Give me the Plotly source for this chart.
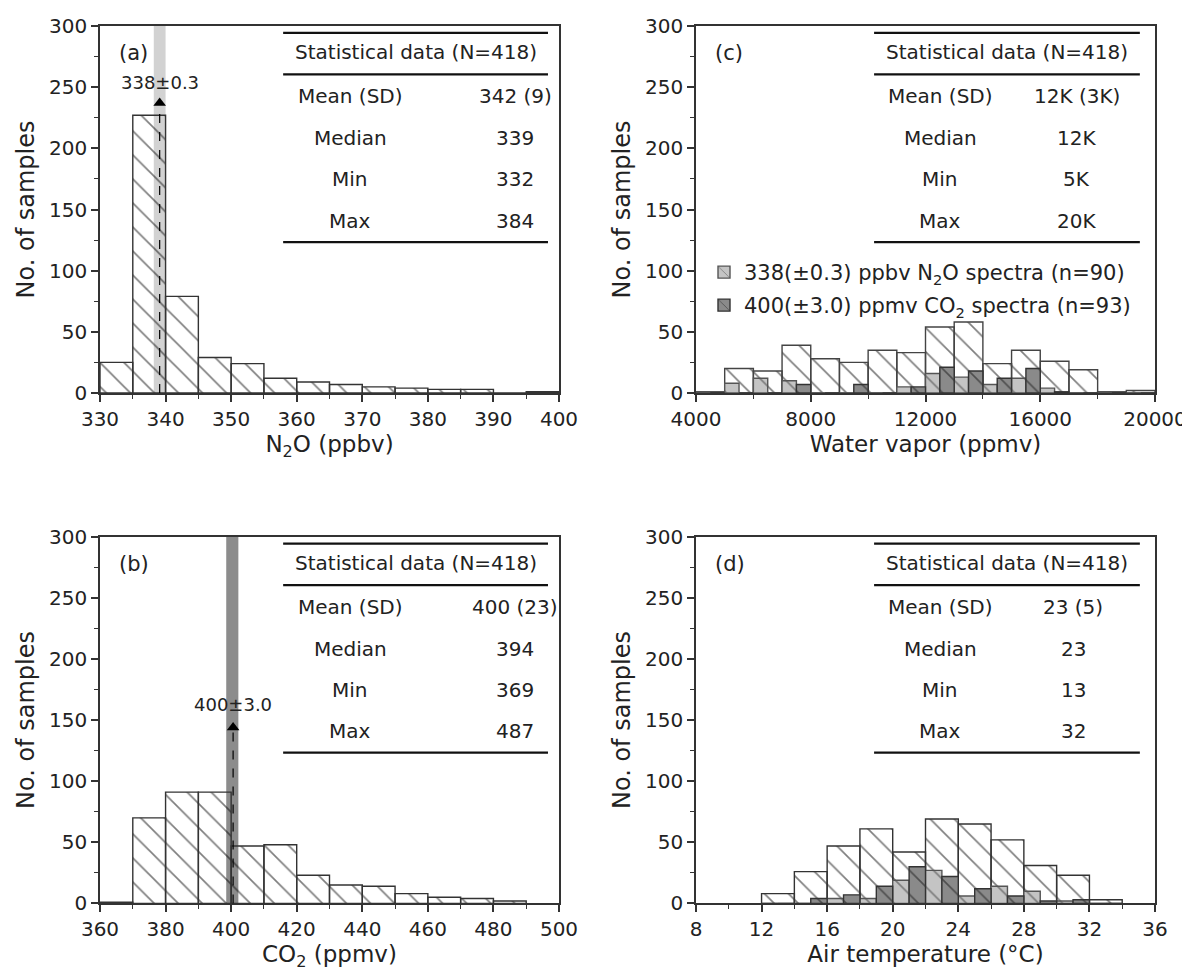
import plotly.graph_objects as go

# ---------------- data ----------------
# (a) N2O histogram (bin width 5 ppbv)
n2o_bin_start = [330, 335, 340, 345, 350, 355, 360, 365, 370, 375, 380, 385, 390, 395]
n2o_counts = [25, 227, 79, 29, 24, 12, 9, 7, 5, 4, 3, 3, 0, 1]
n2o_width = 5

# (b) CO2 histogram (bin width 10 ppmv)
co2_bin_start = [360, 370, 380, 390, 400, 410, 420, 430, 440, 450, 460, 470, 480]
co2_counts = [1, 70, 91, 91, 47, 48, 23, 15, 14, 8, 5, 4, 2]
co2_width = 10

# (c) water vapor histogram (bin width 1000 ppmv)
wv_bin_start = [4000, 5000, 6000, 7000, 8000, 9000, 10000, 11000, 12000, 13000,
                14000, 15000, 16000, 17000, 18000, 19000]
wv_counts = [1, 20, 18, 39, 28, 25, 35, 33, 54, 58, 24, 35, 26, 19, 1, 2]
wv_n2o = [0, 8, 12, 10, 0, 0, 0, 5, 16, 13, 7, 12, 4, 0, 0, 0]
wv_co2 = [0, 0, 0, 7, 0, 7, 0, 5, 21, 18, 12, 20, 1, 0, 0, 0]
wv_width = 1000

# (d) air temperature histogram (bin width 2 C)
t_bin_start = [12, 14, 16, 18, 20, 22, 24, 26, 28, 30, 32]
t_counts = [8, 26, 47, 61, 42, 69, 65, 52, 31, 23, 3]
t_n2o = [0, 0, 4, 4, 19, 27, 6, 14, 10, 2, 0]
t_co2 = [0, 4, 7, 14, 30, 22, 12, 6, 2, 3, 0]
t_width = 2

# statistics tables
stat_labels = ["Mean (SD)", "Median", "Min", "Max"]
stat_header = "Statistical data (N=418)"
a_vals = ["342 (9)", "339", "332", "384"]
b_vals = ["400 (23)", "394", "369", "487"]
c_vals = ["12K (3K)", "12K", "5K", "20K"]
d_vals = ["23 (5)", "23", "13", "32"]

# reference spectra markers
n2o_ref = dict(center=339.1, lo=338.2, hi=340.0, tip=237, label="338±0.3", label_y=254)
co2_ref = dict(center=400.6, lo=398.5, hi=402.2, tip=144, label="400±3.0", label_y=163)

FONT = "DejaVu Sans"
INK = "#222222"
AX = "#333333"
HATCH = "#000000"

fig = go.Figure()

def hatched(xs, ys, w, xa, ya, off=0, bg="rgba(0,0,0,0)", fg=HATCH, line=AX,
            name=None, showlegend=False, legend=None):
    kw = {}
    if legend:
        kw["legend"] = legend
    fig.add_trace(go.Bar(
        x=xs, y=ys, width=w, offset=off, xaxis=xa, yaxis=ya,
        name=name, showlegend=showlegend,
        marker=dict(color=bg, line=dict(color=line, width=1.4),
                    pattern=dict(shape="\\", fgcolor=fg, bgcolor=bg, size=17, solidity=0.1)),
        hoverinfo="x+y", **kw))

LIGHT = "#c4c4c4"
DARK = "#8a8a8a"

hatched(n2o_bin_start, n2o_counts, n2o_width, "x", "y")
hatched(co2_bin_start, co2_counts, co2_width, "x2", "y2")
hatched(wv_bin_start, wv_counts, wv_width, "x3", "y3", line="#444")
hatched(wv_bin_start, wv_n2o, wv_width / 2, "x3", "y3", off=0, bg=LIGHT, fg="#333", line="#555",
        name="338(±0.3) ppbv N<sub>2</sub>O spectra (n=90)", showlegend=True, legend="legend")
hatched(wv_bin_start, wv_co2, wv_width / 2, "x3", "y3", off=wv_width / 2, bg=DARK, fg="#111", line="#333",
        name="400(±3.0) ppmv CO<sub>2</sub> spectra (n=93)", showlegend=True, legend="legend2")
hatched(t_bin_start, t_counts, t_width, "x4", "y4")
hatched(t_bin_start, t_n2o, t_width / 2, "x4", "y4", off=0, bg=LIGHT, fg="#333", line="#555")
hatched(t_bin_start, t_co2, t_width / 2, "x4", "y4", off=t_width / 2, bg=DARK, fg="#111", line="#333")

# ---------------- layout ----------------
OFF = 8  # page body margin
W, H = 1190 - OFF, 979 - OFF
def px_x(p):
    return (p - OFF) / W
def px_y(p):
    return 1 - (p - OFF) / H

xl = [px_x(100), px_x(559)]
xr = [px_x(696), px_x(1155)]
yt = [px_y(393), px_y(26)]
yb = [px_y(903.4), px_y(536.7)]

def xaxis(dom, rng, dtick, minor, title, anchor):
    return dict(domain=dom, range=rng, dtick=dtick, tick0=rng[0], anchor=anchor,
                showline=True, linecolor=AX, linewidth=1.5, mirror=True,
                ticks="outside", ticklen=7, tickwidth=1.5, tickcolor=AX,
                minor=dict(dtick=minor, ticks="outside", ticklen=4, tickwidth=1.2, tickcolor=AX),
                showgrid=False, zeroline=False, automargin=False, tickformat="d",
                tickfont=dict(family=FONT, size=20, color=INK),
                title=dict(text=title, font=dict(family=FONT, size=23, color=INK), standoff=3))

def yaxis(dom, anchor):
    return dict(domain=dom, range=[0, 300], dtick=50, anchor=anchor,
                showline=True, linecolor=AX, linewidth=1.5, mirror=True,
                ticks="outside", ticklen=7, tickwidth=1.5, tickcolor=AX,
                minor=dict(dtick=25, ticks="outside", ticklen=4, tickwidth=1.2, tickcolor=AX),
                showgrid=False, zeroline=False, automargin=False,
                tickfont=dict(family=FONT, size=20, color=INK),
                title=dict(text="No. of samples", font=dict(family=FONT, size=24, color=INK), standoff=8))

fig.update_layout(
    width=W, height=H, margin=dict(l=0, r=0, t=0, b=0),
    paper_bgcolor="white", plot_bgcolor="white", barmode="overlay",
    font=dict(family=FONT, color=INK),
    xaxis=xaxis(xl, [330, 400], 10, 5, "N<sub>2</sub>O (ppbv)", "y"),
    yaxis=yaxis(yt, "x"),
    xaxis2=xaxis(xl, [360, 500], 20, 10, "CO<sub>2</sub> (ppmv)", "y2"),
    yaxis2=yaxis(yb, "x2"),
    xaxis3=xaxis(xr, [4000, 20000], 4000, 2000, "Water vapor (ppmv)", "y3"),
    yaxis3=yaxis(yt, "x3"),
    xaxis4=xaxis(xr, [8, 36], 4, 2, "Air temperature (°C)", "y4"),
    yaxis4=yaxis(yb, "x4"),
    legend=dict(x=px_x(704), y=px_y(252), xanchor="left", yanchor="top",
                bgcolor="rgba(0,0,0,0)", font=dict(family=FONT, size=21, color=INK)),
    legend2=dict(x=px_x(704), y=px_y(285), xanchor="left", yanchor="top",
                 bgcolor="rgba(0,0,0,0)", font=dict(family=FONT, size=21, color=INK)),
)

shapes = []
annotations = []

# reference bands, dashed lines and arrow heads
for ref, xa, ya, col in [(n2o_ref, "x", "y", "#d2d2d2"), (co2_ref, "x2", "y2", "#8c8c8c")]:
    shapes.append(dict(type="rect", xref=xa, yref=ya + " domain", x0=ref["lo"], x1=ref["hi"],
                       y0=0, y1=1, fillcolor=col, line=dict(width=0), layer="below"))
    shapes.append(dict(type="line", xref=xa, yref=ya, x0=ref["center"], x1=ref["center"],
                       y0=0, y1=ref["tip"], line=dict(color="black", width=1.2, dash="dash")))
    fig.add_trace(go.Scatter(x=[ref["center"]], y=[ref["tip"]], xaxis=xa, yaxis=ya, mode="markers",
                             marker=dict(symbol="triangle-up", size=11, color="black"),
                             showlegend=False, hoverinfo="skip"))
    annotations.append(dict(xref=xa, yref=ya, x=ref["center"], y=ref["label_y"], text=ref["label"],
                            showarrow=False, xanchor="center", yanchor="middle",
                            font=dict(family=FONT, size=18, color=INK)))

# statistics tables and panel letters
panels = [("x", "y", a_vals, "(a)", 0.545, 0.905, 0.399, 0.976),
          ("x2", "y2", b_vals, "(b)", 0.545, 0.905, 0.399, 0.976),
          ("x3", "y3", c_vals, "(c)", 0.532, 0.830, 0.388, 0.967),
          ("x4", "y4", d_vals, "(d)", 0.532, 0.822, 0.388, 0.967)]
row_y = [0.809, 0.695, 0.582, 0.469]
for xa, ya, vals, letter, lx, vx, x0, x1 in panels:
    xd, yd = xa + " domain", ya + " domain"
    for yy in [0.981, 0.868, 0.411]:
        shapes.append(dict(type="line", xref=xd, yref=yd, x0=x0, x1=x1, y0=yy, y1=yy,
                           line=dict(color="#111", width=2.2)))
    annotations.append(dict(xref=xd, yref=yd, x=(x0 + x1) / 2, y=0.929, text=stat_header,
                            showarrow=False, xanchor="center", yanchor="middle",
                            font=dict(family=FONT, size=20, color=INK)))
    for lab, val, yy in zip(stat_labels, vals, row_y):
        annotations.append(dict(xref=xd, yref=yd, x=lx, y=yy, text=lab, showarrow=False,
                                xanchor="center", yanchor="middle",
                                font=dict(family=FONT, size=20, color=INK)))
        annotations.append(dict(xref=xd, yref=yd, x=vx, y=yy, text=val, showarrow=False,
                                xanchor="center", yanchor="middle",
                                font=dict(family=FONT, size=20, color=INK)))
    annotations.append(dict(xref=xd, yref=yd, x=0.036, y=0.926, text=letter, showarrow=False,
                            xanchor="left", yanchor="middle",
                            font=dict(family=FONT, size=21, color=INK)))

fig.update_layout(shapes=shapes, annotations=annotations)
fig.write_html("out.html")
